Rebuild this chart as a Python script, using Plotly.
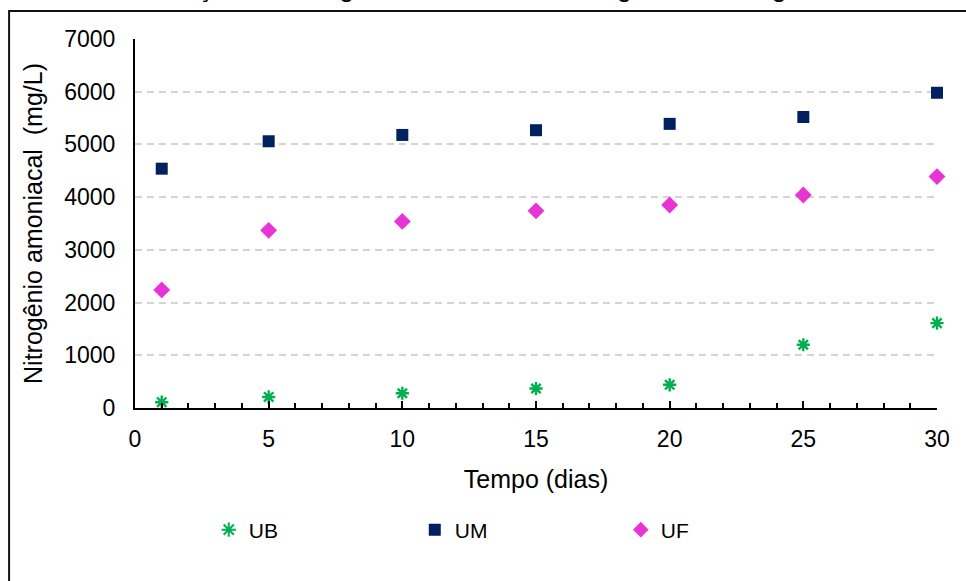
import plotly.graph_objects as go

# Ammonia nitrogen measured over the storage period
dias = [1, 5, 10, 15, 20, 25, 30]
ub = [110, 210, 280, 370, 440, 1200, 1610]
um = [4540, 5060, 5180, 5270, 5390, 5520, 5980]
uf = [2240, 3370, 3540, 3740, 3850, 4040, 4390]

series_names = ["UB", "UM", "UF"]
titulo = "Variação do nitrogênio amoniacal ao longo da estocagem"
eixo_x = "Tempo (dias)"
eixo_y = "Nitrogênio amoniacal  (mg/L)"

FONT = "Arial, Liberation Sans, sans-serif"

fig = go.Figure()
fig.add_trace(go.Scatter(
    x=dias, y=ub, mode="markers", name=series_names[0], cliponaxis=False,
    marker=dict(symbol="asterisk-open", size=11, color="#00B050",
                line=dict(color="#00B050", width=2.4)),
))
fig.add_trace(go.Scatter(
    x=dias, y=um, mode="markers", name=series_names[1], cliponaxis=False,
    marker=dict(symbol="square", size=12, color="#002060",
                line=dict(width=0)),
))
fig.add_trace(go.Scatter(
    x=dias, y=uf, mode="markers", name=series_names[2], cliponaxis=False,
    marker=dict(symbol="diamond", size=13, color="#E834D4",
                line=dict(width=0)),
))

fig.update_layout(
    width=966, height=581,
    margin=dict(l=135, r=29, t=39, b=173),
    paper_bgcolor="white", plot_bgcolor="white",
    font=dict(family=FONT, color="black", size=23),
    showlegend=True,
    legend=dict(
        orientation="h", x=0.092, xanchor="left", y=-0.275, yanchor="top",
        font=dict(size=21, family=FONT), entrywidth=161, entrywidthmode="pixels",
        bgcolor="rgba(0,0,0,0)", itemsizing="constant",
    ),
    xaxis=dict(
        range=[0, 30], tickmode="linear", tick0=0, dtick=5,
        showgrid=False, zeroline=False,
        showline=True, linecolor="black", linewidth=2,
        ticks="inside", ticklen=7, tickwidth=2, tickcolor="black",
        ticklabelstandoff=9,
        minor=dict(dtick=1, ticks="inside", ticklen=5, tickwidth=2, tickcolor="black"),
        tickfont=dict(size=23, family=FONT),
        title=dict(text=eixo_x, font=dict(size=25, family=FONT), standoff=20),
    ),
    yaxis=dict(
        range=[0, 7000], tickmode="linear", tick0=0, dtick=1000,
        showgrid=True, gridcolor="#D4D4D4", gridwidth=2, griddash="7px,5px",
        zeroline=False,
        showline=True, linecolor="black", linewidth=2,
        ticks="", ticklabelstandoff=13,
        tickfont=dict(size=23, family=FONT),
        title=dict(text=eixo_y, font=dict(size=25, family=FONT), standoff=14),
    ),
)

# Chart frame
fig.add_shape(type="rect", xref="paper", yref="paper",
              x0=-0.157, x1=1.2, y0=-0.7, y1=1.076,
              line=dict(color="#111111", width=2), layer="below")

# Title sits above the visible frame
fig.add_annotation(text=titulo, xref="paper", yref="paper",
                   x=0.431, xanchor="center", y=1.095, yanchor="bottom",
                   showarrow=False, font=dict(size=27, family=FONT, color="black"))

fig.write_html("out.html")
